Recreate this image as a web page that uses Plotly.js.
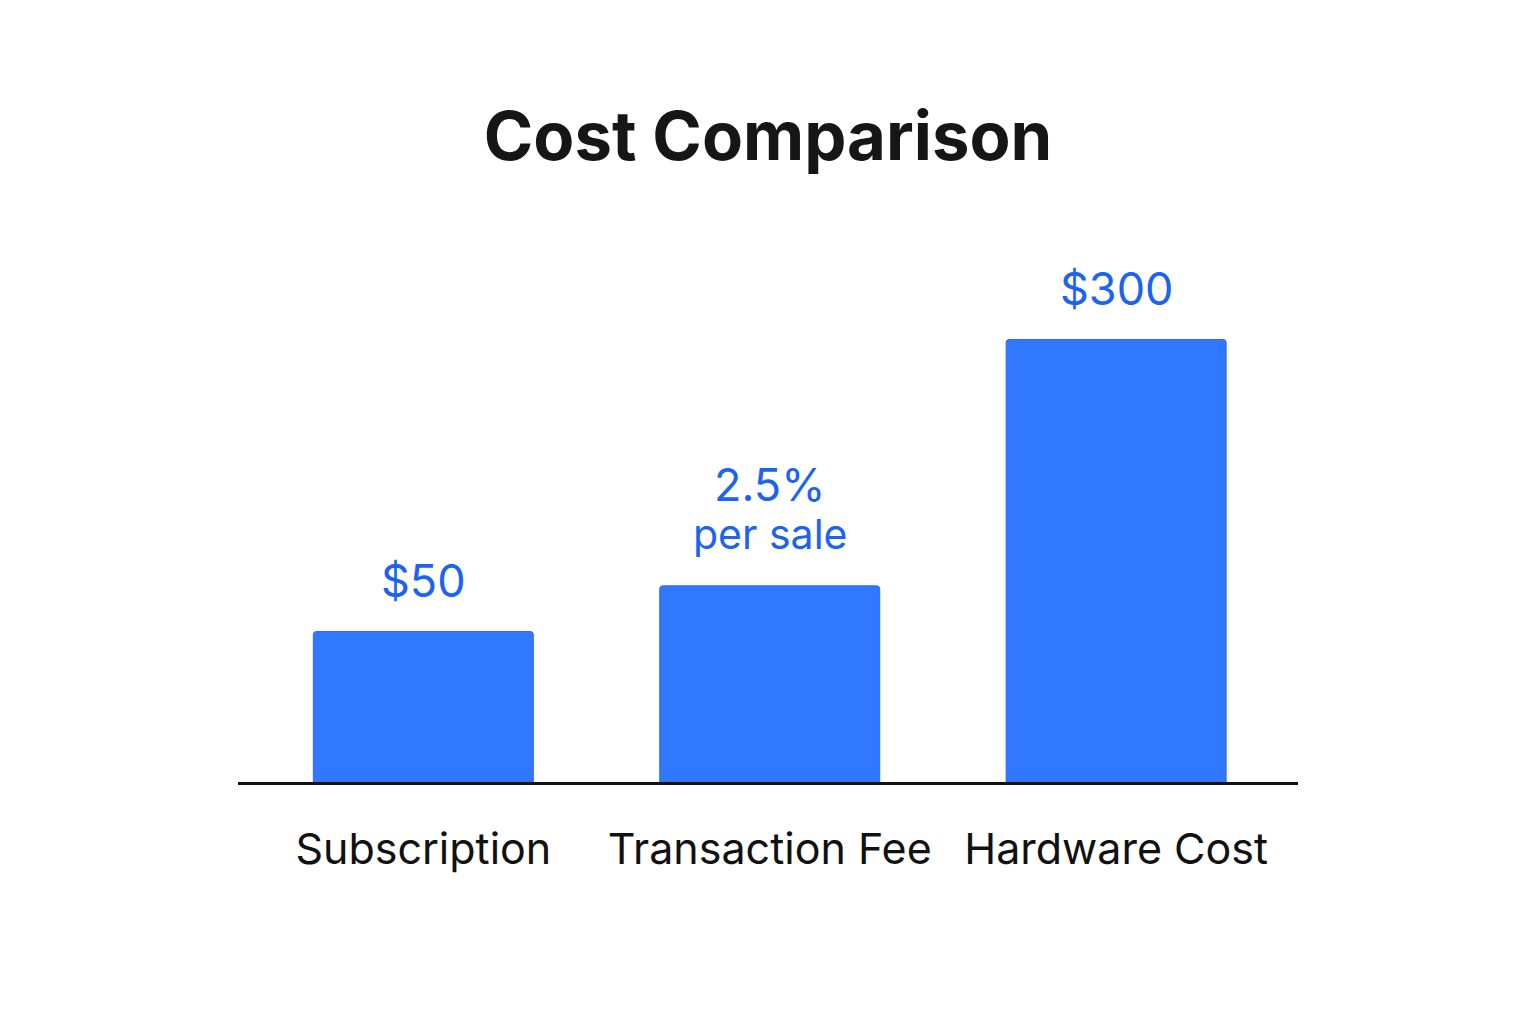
<!DOCTYPE html>
<html>
<head>
<meta charset="utf-8">
<script src="https://cdn.plot.ly/plotly-3.0.1.min.js"></script>
<style>html,body{margin:0;padding:0;background:#fff;}#chart{width:1536px;height:1024px;}</style>
</head>
<body>
<div id="chart"></div>
<script>
// Data (bars are illustrative, not to scale)
const categories = ["Subscription", "Transaction Fee", "Hardware Cost"];
const barHeights = [1.02, 1.33, 3.0];           // drawn heights (relative units)
const valueLabels = ["$50", "2.5%", "$300"];
const subLabels = ["", "per sale", ""];

const BAR_COLOR = "#3078FF";
const LABEL_COLOR = "#1C63F2";
const FONT = "Inter, 'Open Sans', sans-serif";

const trace = {
  type: "bar",
  x: categories,
  y: barHeights,
  width: 0.635,
  marker: { color: BAR_COLOR, line: { color: "#2A6BE8", width: 1 }, cornerradius: 3 },
  hoverinfo: "skip"
};

const annotations = [];
categories.forEach((c, i) => {
  const hasSub = subLabels[i] !== "";
  if (hasSub) {
    annotations.push({
      x: c, y: barHeights[i], xref: "x", yref: "y",
      text: subLabels[i], showarrow: false,
      yanchor: "bottom", yshift: 25,
      font: { family: FONT, size: 41, color: LABEL_COLOR }
    });
  }
  annotations.push({
    x: c, y: barHeights[i], xref: "x", yref: "y",
    text: valueLabels[i], showarrow: false,
    yanchor: "bottom", yshift: hasSub ? 72 : 22,
    font: { family: FONT, size: 45, color: LABEL_COLOR }
  });
});

const layout = {
  width: 1536, height: 1024,
  paper_bgcolor: "#fff", plot_bgcolor: "#fff",
  margin: { l: 238, r: 238, t: 192, b: 242 },
  title: {
    text: "<b>Cost Comparison</b>",
    x: 0.5, xanchor: "center",
    y: 1 - 137 / 1024, yanchor: "middle", yref: "container",
    font: { family: FONT, size: 67, color: "#161616" }
  },
  showlegend: false,
  xaxis: {
    type: "category",
    range: [-0.535, 2.525],
    showline: true, linecolor: "#111", linewidth: 2.5,
    showgrid: false, zeroline: false,
    ticks: "outside", ticklen: 28, tickcolor: "rgba(0,0,0,0)",
    tickfont: { family: FONT, size: 43, color: "#111" },
    fixedrange: true
  },
  yaxis: {
    range: [0, 4],
    visible: false, showgrid: false, zeroline: false,
    fixedrange: true
  },
  annotations: annotations
};

Plotly.newPlot("chart", [trace], layout, { displayModeBar: false, staticPlot: true });
</script>
</body>
</html>
